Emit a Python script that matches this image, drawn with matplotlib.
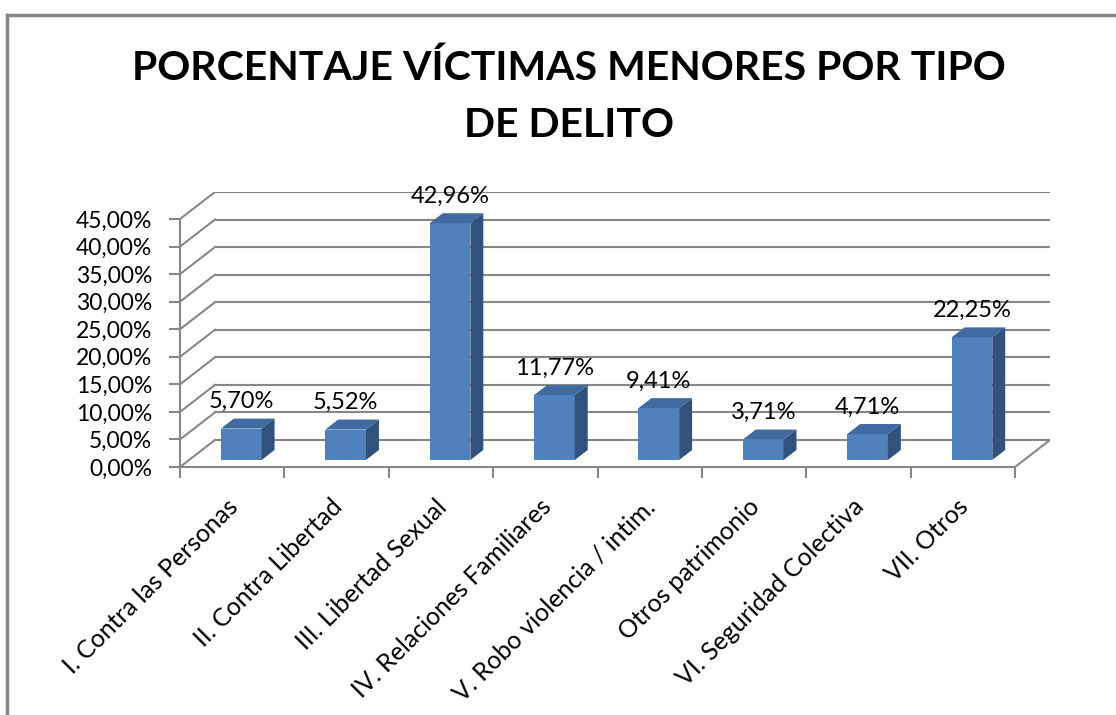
import numpy as np
from matplotlib import pyplot as plt
from matplotlib.patches import Polygon
from matplotlib.lines import Line2D
from matplotlib.ticker import FuncFormatter, FixedLocator

plt.rcParams.update({
  "font.family": ['Lato', 'DejaVu Sans'],
})

categorias = ["I. Contra las Personas", "II. Contra Libertad", "III. Libertad Sexual",
              "IV. Relaciones Familiares", "V. Robo violencia / intim.", "Otros patrimonio",
              "VI. Seguridad Colectiva", "VII. Otros"]
porcentajes = [5.70, 5.52, 42.96, 11.77, 9.41, 3.71, 4.71, 22.25]
ticks_y = [0, 5, 10, 15, 20, 25, 30, 35, 40, 45]
titulo = "PORCENTAJE VÍCTIMAS MENORES POR TIPO\nDE DELITO"

# profundidad de la "caja" 3D en unidades de datos
DX, DY = 0.335, 4.9
F0, BD = 0.26, 0.37     # posición y grosor de la barra en profundidad
W = 0.39
GRIS = '#878787'

def fmt(v, pos=None):
  return f"{v:.2f}".replace('.', ',') + '%'

W_PX, H_PX = 1116, 715
fig = plt.figure(figsize=(W_PX/100, H_PX/100), dpi=100)
ax = fig.add_axes([180/W_PX, (H_PX-467)/H_PX, 870/W_PX, 275/H_PX])
n = len(categorias)
x0, x1 = -0.5, n - 0.5
ax.set_xlim(x0, x1 + DX)
ax.set_ylim(0, ticks_y[-1] + DY)

# paredes: líneas de rejilla en la pared trasera y lateral
for v in ticks_y:
  ax.plot([x0 + DX, x1 + DX], [v + DY, v + DY], color=GRIS, lw=1.5, zorder=1)
  ax.plot([x0, x0 + DX], [v, v + DY], color=GRIS, lw=1.5, zorder=1)
ax.plot([x1, x1 + DX], [0, DY], color=GRIS, lw=1.5, zorder=1)

for i, v in enumerate(porcentajes):
  l = i - W/2 + F0*DX
  r = i + W/2 + F0*DX
  b = F0*DY
  t = v + F0*DY
  ox, oy = BD*DX, BD*DY
  ax.add_patch(Polygon([(l, b), (r, b), (r, t), (l, t)], closed=True,
                       fc='#4f81bd', ec='none', zorder=3))
  ax.add_patch(Polygon([(l, t), (r, t), (r+ox, t+oy), (l+ox, t+oy)], closed=True,
                       fc='#3f6ba0', ec='none', zorder=3))
  ax.add_patch(Polygon([(r, b), (r+ox, b+oy), (r+ox, t+oy), (r, t)], closed=True,
                       fc='#30527c', ec='none', zorder=3))
  ax.text(i + F0*DX, t + oy + 1.2, fmt(v), ha='center', va='bottom', fontsize=17, zorder=4)

for s in ['top', 'right']:
  ax.spines[s].set_visible(False)
ax.spines['left'].set_bounds(0, ticks_y[-1])
ax.spines['bottom'].set_bounds(x0, x1)
for s in ['left', 'bottom']:
  ax.spines[s].set_color(GRIS)
  ax.spines[s].set_linewidth(1.5)

ax.set_yticks(ticks_y)
ax.yaxis.set_major_formatter(FuncFormatter(fmt))
ax.tick_params(axis='y', length=8, width=1.5, color=GRIS, pad=12, labelsize=16.5)

ax.set_xticks(range(n))
ax.set_xticklabels([])
ax.xaxis.set_minor_locator(FixedLocator(np.arange(x0, x1 + 0.01, 1)))
ax.tick_params(axis='x', which='major', length=0)
ax.tick_params(axis='x', which='minor', length=8, width=1.5, color=GRIS)
for i, c in enumerate(categorias):
  ax.annotate(c, xy=(i, 0), xytext=(2, -36), textcoords='offset pixels',
              ha='right', va='center', rotation=45, rotation_mode='anchor',
              fontsize=18, annotation_clip=False)

fig.text(569/W_PX, 1 - 97/H_PX, titulo, ha='center', va='center', fontsize=29.5,
         fontweight='bold', linespacing=1.65)

# marco del gráfico
fig.add_artist(Line2D([7/W_PX, 7/W_PX], [0, 1 - 15/H_PX], color=GRIS, lw=2.5))
fig.add_artist(Line2D([7/W_PX, 1], [1 - 15/H_PX, 1 - 15/H_PX], color=GRIS, lw=2.5))

fig.savefig('out.png', dpi=100)
